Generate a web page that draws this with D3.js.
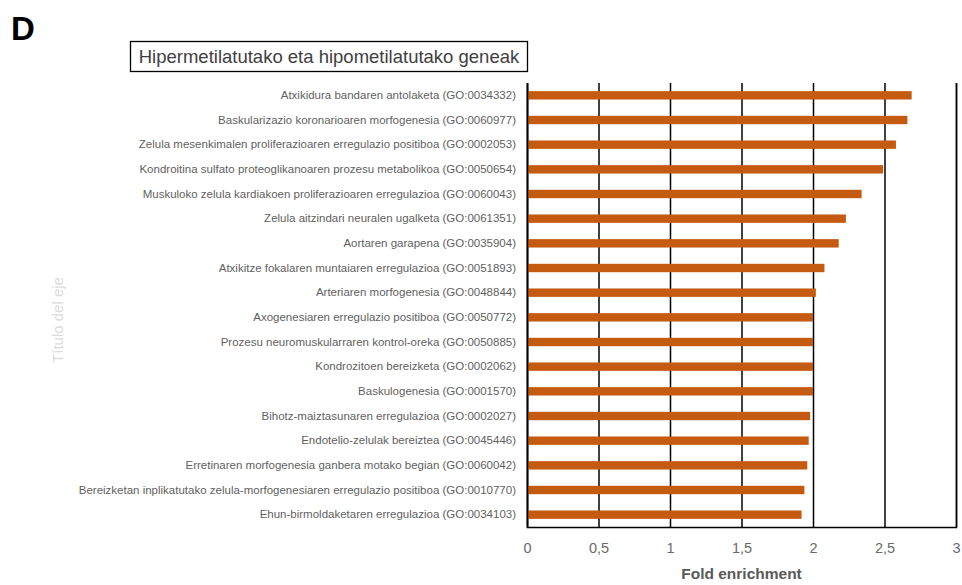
<!DOCTYPE html>
<html>
<head>
<meta charset="utf-8">
<script src="https://cdn.jsdelivr.net/npm/d3@7"></script>
<style>
  html, body { margin: 0; padding: 0; background: #fff; }
  svg { display: block; }
</style>
</head>
<body>
<svg id="chart" width="962" height="585"></svg>
<script>
const categories = [
  "Atxikidura bandaren antolaketa (GO:0034332)",
  "Baskularizazio koronarioaren morfogenesia (GO:0060977)",
  "Zelula mesenkimalen proliferazioaren erregulazio positiboa (GO:0002053)",
  "Kondroitina sulfato proteoglikanoaren prozesu metabolikoa (GO:0050654)",
  "Muskuloko zelula kardiakoen proliferazioaren erregulazioa (GO:0060043)",
  "Zelula aitzindari neuralen ugalketa (GO:0061351)",
  "Aortaren garapena (GO:0035904)",
  "Atxikitze fokalaren muntaiaren erregulazioa (GO:0051893)",
  "Arteriaren morfogenesia (GO:0048844)",
  "Axogenesiaren erregulazio positiboa (GO:0050772)",
  "Prozesu neuromuskularraren kontrol-oreka (GO:0050885)",
  "Kondrozitoen bereizketa (GO:0002062)",
  "Baskulogenesia (GO:0001570)",
  "Bihotz-maiztasunaren erregulazioa (GO:0002027)",
  "Endotelio-zelulak bereiztea (GO:0045446)",
  "Erretinaren morfogenesia ganbera motako begian (GO:0060042)",
  "Bereizketan inplikatutako zelula-morfogenesiaren erregulazio positiboa (GO:0010770)",
  "Ehun-birmoldaketaren erregulazioa (GO:0034103)"
];
const foldEnrichment = [2.69, 2.66, 2.58, 2.49, 2.34, 2.23, 2.18, 2.08, 2.02, 2.00, 2.00, 2.00, 2.00, 1.98, 1.97, 1.96, 1.94, 1.92];
const xTicks = [0, 0.5, 1, 1.5, 2, 2.5, 3];
const panelLetter = "D";
const chartTitle = "Hipermetilatutako eta hipometilatutako geneak";
const xAxisTitle = "Fold enrichment";
const yAxisTitle = "Título del eje";

const svg = d3.select("#chart");
const margin = { left: 527, right: 6, top: 83, bottom: 58 };
const W = 962, H = 585;
const x = d3.scaleLinear().domain([0, 3]).range([margin.left, W - margin.right]);
const y = d3.scaleBand().domain(categories).range([margin.top, H - margin.bottom]).paddingInner(0.66).paddingOuter(0.33);

const font = "'Liberation Sans', Arial, sans-serif";

// gridlines + bottom axis labels
const xAxis = d3.axisBottom(x)
  .tickValues(xTicks)
  .tickSize(-(H - margin.bottom - margin.top))
  .tickPadding(16)
  .tickFormat(d => String(d).replace(".", ","));
const gx = svg.append("g")
  .attr("transform", `translate(0,${H - margin.bottom})`)
  .call(xAxis);
gx.select(".domain").attr("stroke", "#000").attr("stroke-width", 1.5);
gx.selectAll(".tick line").attr("stroke", "#000").attr("stroke-width", 1.5);
gx.selectAll(".tick text").attr("fill", "#6a6a6a").style("font-family", font).style("font-size", "14.5px");

// bars
svg.append("g").selectAll("rect")
  .data(categories)
  .join("rect")
  .attr("x", x(0))
  .attr("y", d => y(d))
  .attr("width", (d, i) => x(foldEnrichment[i]) - x(0))
  .attr("height", y.bandwidth())
  .attr("fill", "#C55A11");

// y axis
const yAxis = d3.axisLeft(y).tickSize(0).tickPadding(11);
const gy = svg.append("g").attr("transform", `translate(${margin.left},0)`).call(yAxis);
gy.select(".domain").attr("stroke", "#000").attr("stroke-width", 1.5);
gy.selectAll(".tick text").attr("fill", "#5f5f5f").style("font-family", font).style("font-size", "11.5px");

// x axis title
svg.append("text")
  .attr("x", (x(0) + x(3)) / 2)
  .attr("y", 579)
  .attr("text-anchor", "middle")
  .attr("fill", "#595959")
  .style("font-family", font)
  .style("font-size", "15.5px")
  .style("font-weight", "bold")
  .text(xAxisTitle);

// y axis title
svg.append("text")
  .attr("transform", "translate(63,320) rotate(-90)")
  .attr("text-anchor", "middle")
  .attr("fill", "#dcdcdc")
  .style("font-family", font)
  .style("font-size", "15px")
  .text(yAxisTitle);

// panel letter
svg.append("text")
  .attr("x", 11)
  .attr("y", 40)
  .attr("fill", "#000")
  .style("font-family", font)
  .style("font-size", "33px")
  .style("font-weight", "bold")
  .text(panelLetter);

// chart title with box
svg.append("rect")
  .attr("x", 130.5).attr("y", 41.5)
  .attr("width", 397).attr("height", 30)
  .attr("fill", "none").attr("stroke", "#000").attr("stroke-width", 1.3);
svg.append("text")
  .attr("x", 329)
  .attr("y", 63)
  .attr("text-anchor", "middle")
  .attr("fill", "#404040")
  .style("font-family", font)
  .style("font-size", "18.5px")
  .text(chartTitle);
</script>
</body>
</html>
